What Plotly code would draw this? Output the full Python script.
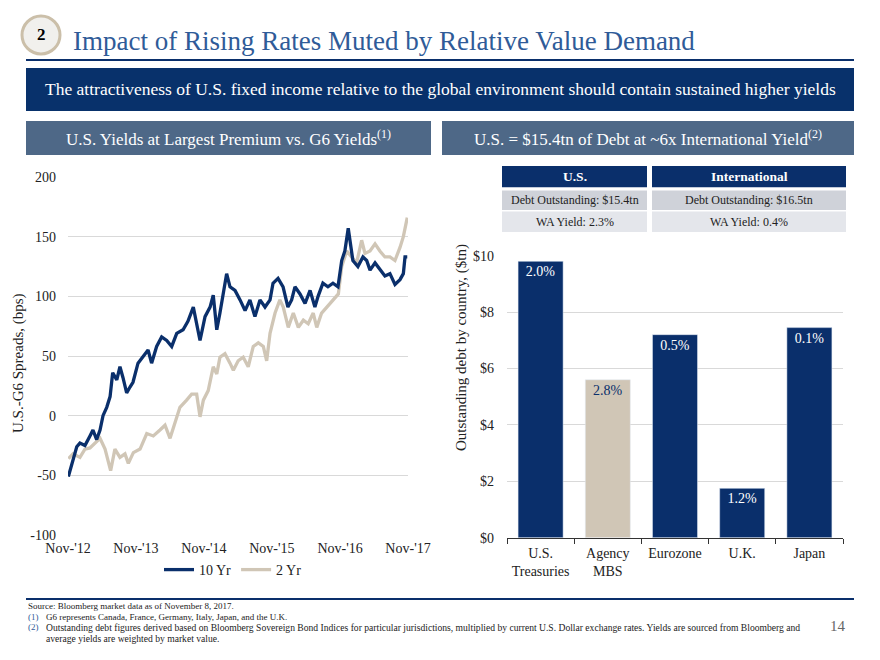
import plotly.graph_objects as go

# ---------------- data ----------------
dates_10yr = ["2012-11-10","2012-12-05","2012-12-25","2013-01-11","2013-02-07","2013-03-06","2013-03-22",
              "2013-04-11","2013-04-29","2013-05-15","2013-06-04","2013-06-22","2013-07-06","2013-07-28",
              "2013-08-14","2013-08-30","2013-09-19","2013-10-07","2013-10-23","2013-11-19","2013-12-16",
              "2014-01-12","2014-01-31","2014-02-27","2014-03-26","2014-04-22","2014-05-19","2014-06-15",
              "2014-07-19","2014-08-14","2014-09-12","2014-10-09","2014-10-18","2014-11-14","2014-12-11",
              "2014-12-28","2015-01-16","2015-02-02","2015-02-24","2015-03-10","2015-03-28","2015-04-24",
              "2015-05-21","2015-06-17","2015-07-13","2015-08-09","2015-09-05","2015-10-02","2015-10-29",
              "2015-11-14","2015-12-11","2016-01-07","2016-02-02","2016-02-22","2016-03-11","2016-04-07",
              "2016-05-04","2016-05-31","2016-06-26","2016-07-13","2016-08-08","2016-09-04","2016-10-01",
              "2016-10-28","2016-11-17","2016-12-04","2016-12-22","2017-01-04","2017-01-16","2017-02-12",
              "2017-03-11","2017-03-31","2017-04-18","2017-05-15","2017-06-10","2017-07-07","2017-08-03",
              "2017-08-30","2017-09-26","2017-10-14","2017-10-23","2017-11-04"]
spread_10yr = [-51,-37,-26,-23,-25,-17,-12,
               -20,-12,0,7,16,36,30,
               41,32,19,24,28,44,49,
               55,44,58,66,63,58,69,
               72,79,91,72,63,83,91,
               101,72,86,108,119,108,105,
               97,88,97,83,97,91,97,
               111,115,108,91,97,108,102,
               94,105,91,100,111,108,111,
               108,130,138,157,145,130,125,
               133,130,122,128,122,117,119,
               110,114,119,133,133]

dates_2yr = ["2012-11-10","2012-12-05","2013-01-11","2013-02-07","2013-03-06","2013-04-02","2013-04-29",
             "2013-05-26","2013-06-12","2013-06-25","2013-07-18","2013-08-14","2013-09-10","2013-09-28",
             "2013-10-25","2013-11-30","2014-01-05","2014-02-09","2014-03-17","2014-04-13","2014-05-10",
             "2014-06-06","2014-07-02","2014-08-07","2014-09-03","2014-09-30","2014-10-18","2014-11-05",
             "2014-12-01","2014-12-28","2015-01-16","2015-02-02","2015-03-01","2015-03-28","2015-04-15",
             "2015-05-11","2015-06-07","2015-07-04","2015-07-31","2015-08-27","2015-09-23","2015-10-11",
             "2015-10-29","2015-11-25","2015-12-21","2016-01-08","2016-02-04","2016-03-02","2016-03-29",
             "2016-04-25","2016-05-21","2016-06-17","2016-07-06","2016-08-01","2016-08-28","2016-10-03",
             "2016-10-30","2016-11-17","2016-12-14","2017-01-09","2017-02-05","2017-03-04","2017-03-22",
             "2017-04-18","2017-05-15","2017-06-10","2017-07-07","2017-08-03","2017-08-30","2017-09-26",
             "2017-10-14","2017-11-04"]
spread_2yr = [-36,-32,-35,-28,-27,-23,-19,
              -28,-37,-46,-28,-35,-32,-40,
              -31,-28,-15,-17,-12,-8,-19,
              -5,7,13,18,18,-1,13,
              21,41,35,49,52,44,38,
              46,49,41,58,61,58,46,
              69,86,97,91,74,86,74,
              80,77,86,74,86,91,97,
              102,125,138,133,128,147,136,
              138,144,138,133,133,130,141,
              150,166]

x_tick_vals = ["2012-11-08","2013-11-08","2014-11-08","2015-11-08","2016-11-08","2017-11-08"]
x_tick_text = ["Nov-'12","Nov-'13","Nov-'14","Nov-'15","Nov-'16","Nov-'17"]
y_tick_vals = [-100,-50,0,50,100,150,200]
y_tick_text = ["-100","-50","0","50","100","150","200"]

debt_categories = ["U.S.<br>Treasuries","Agency<br>MBS","Eurozone","U.K.","Japan"]
debt_values = [9.8,5.6,7.2,1.75,7.45]
debt_yields = ["2.0%","2.8%","0.5%","1.2%","0.1%"]
debt_ticks = [0,2,4,6,8,10]
debt_ticktext = ["$0","$2","$4","$6","$8","$10"]

# ---------------- styles ----------------
# the page body has an 8px margin, so the figure is 864x644 and page pixels are offset by 8
OFF = 8
W, H = 880 - 2 * OFF, 660 - 2 * OFF
NAVY = "#0a2f6b"
BEIGE = "#d0c6b6"
SLATE = "#4e6887"
TITLEBLUE = "#2f5b98"
TXT = "#222222"
FONT = "Liberation Serif"

def px(x): return (x - OFF) / W
def py(y): return 1 - (y - OFF) / H

fig = go.Figure()

fig.add_trace(go.Scatter(x=dates_2yr, y=spread_2yr, mode="lines", name="2 Yr",
                         line=dict(color=BEIGE, width=3.3), xaxis="x", yaxis="y"))
fig.add_trace(go.Scatter(x=dates_10yr, y=spread_10yr, mode="lines", name="10 Yr",
                         line=dict(color=NAVY, width=3.3), xaxis="x", yaxis="y"))

bar_colors = [NAVY, BEIGE, NAVY, NAVY, NAVY]
text_colors = ["white", NAVY, "white", "white", "white"]
fig.add_trace(go.Bar(x=debt_categories, y=debt_values, text=debt_yields, marker_color=bar_colors,
                     textposition="inside", insidetextanchor="end", textangle=0,
                     textfont=dict(color=text_colors, size=14, family=FONT),
                     showlegend=False, xaxis="x3", yaxis="y3", width=0.67))

# left chart domains
L_x0, L_x1 = px(68), px(408)
L_y0, L_y1 = py(535), py(177)
zero_pos = L_y0 + (0 - (-100)) / 300 * (L_y1 - L_y0)

R_x0, R_x1 = px(507), px(843)
R_y0, R_y1 = py(537.7), py(255.7)

x_range = ["2012-11-08", "2017-11-08"]

fig.update_layout(
    width=W, height=H, margin=dict(l=0, r=0, t=0, b=0, autoexpand=False),
    paper_bgcolor="white", plot_bgcolor="white",
    font=dict(family=FONT, size=14, color=TXT),
    showlegend=True,
    legend=dict(orientation="h", x=px(233), xanchor="center", y=py(570), yanchor="middle",
                font=dict(size=14, color=TXT), itemwidth=30, traceorder="reversed",
                bgcolor="rgba(0,0,0,0)"),
    xaxis=dict(domain=[L_x0, L_x1], range=x_range, type="date", tickvals=x_tick_vals, ticktext=x_tick_text,
               showgrid=False, showline=False, zeroline=False, ticks="", tickfont=dict(size=14),
               ticklabelstandoff=3, anchor="y", automargin=False),
    xaxis2=dict(domain=[L_x0, L_x1], range=x_range, type="date", overlaying="x", anchor="free",
                position=zero_pos, tickvals=x_tick_vals, showticklabels=False, showgrid=False,
                showline=True, linecolor="#333333", linewidth=1.3, ticks="outside", ticklen=5,
                tickcolor="#333333", zeroline=False, automargin=False),
    yaxis=dict(domain=[L_y0, L_y1], range=[-100, 200], tickvals=y_tick_vals, ticktext=y_tick_text,
               showgrid=True, gridcolor="#d9d9d9", gridwidth=1, zeroline=False, showline=False, ticks="",
               tickfont=dict(size=14), ticklabelstandoff=11, anchor="x", automargin=False),
    xaxis3=dict(domain=[R_x0, R_x1], anchor="y3", showline=True, linecolor="#333333", linewidth=1.3,
                ticks="outside", tickson="boundaries", ticklen=5, tickcolor="#333333", tickangle=0,
                showgrid=False, tickfont=dict(size=14), ticklabelstandoff=2, automargin=False),
    yaxis3=dict(domain=[R_y0, R_y1], anchor="x3", range=[0, 10], tickvals=debt_ticks, ticktext=debt_ticktext,
                showgrid=True, gridcolor="#d9d9d9", zeroline=False, showline=False, ticks="",
                tickfont=dict(size=14), ticklabelstandoff=12, automargin=False),
    bargap=0.33,
)

shapes = []
annots = []

def rect(x0, y0, x1, y1, color):
    shapes.append(dict(type="rect", xref="paper", yref="paper", x0=px(x0), x1=px(x1), y0=py(y1), y1=py(y0),
                       line=dict(width=0), fillcolor=color))

def hline(x0, x1, y, color, width):
    shapes.append(dict(type="line", xref="paper", yref="paper", x0=px(x0), x1=px(x1), y0=py(y), y1=py(y),
                       line=dict(color=color, width=width)))

# header circle and title
shapes.append(dict(type="circle", xref="paper", yref="paper", x0=px(22), x1=px(60), y0=py(54), y1=py(16),
                   line=dict(color="#cbbfa9", width=3), fillcolor="#f1f0ed", layer="above"))
annots.append(dict(x=px(41), y=py(35), text="<b>2</b>", font=dict(size=17, color="black")))
annots.append(dict(x=px(71), y=py(41), xanchor="left",
                   text="Impact of Rising Rates Muted by Relative Value Demand",
                   font=dict(size=27, color=TITLEBLUE)))
hline(26, 854, 60, NAVY, 2)

# banner
rect(26, 68, 854, 111, "#08316b")
annots.append(dict(x=px(440), y=py(89.5),
                   text="The attractiveness of U.S. fixed income relative to the global environment should contain sustained higher yields",
                   font=dict(size=17.5, color="white")))

# panel headers
rect(26, 121, 431, 155, SLATE)
rect(442, 121, 854, 155, SLATE)
annots.append(dict(x=px(228), y=py(138),
                   text="U.S. Yields at Largest Premium vs. G6 Yields<sup>(1)</sup>",
                   font=dict(size=17, color="white")))
annots.append(dict(x=px(648), y=py(138),
                   text="U.S. = $15.4tn of Debt at ~6x International Yield<sup>(2)</sup>",
                   font=dict(size=17, color="white")))

# table above bar chart
table_rows = [
    (166, 187.3, NAVY, "<b>U.S.</b>", "<b>International</b>", "white", 13.5),
    (190.5, 210, "#cfd2d9", "Debt Outstanding: $15.4tn", "Debt Outstanding: $16.5tn", TXT, 12),
    (211.5, 232, "#e4e6eb", "WA Yield: 2.3%", "WA Yield: 0.4%", TXT, 12),
]
for y0, y1, col, t1, t2, tc, fs in table_rows:
    rect(502, y0, 647, y1, col)
    rect(652, y0, 846, y1, col)
    annots.append(dict(x=px(574.5), y=py((y0 + y1) / 2), text=t1, font=dict(size=fs, color=tc)))
    annots.append(dict(x=px(749), y=py((y0 + y1) / 2), text=t2, font=dict(size=fs, color=tc)))

# axis titles
annots.append(dict(x=px(18), y=py(363), textangle=-90, text="U.S.-G6 Spreads, (bps)",
                   font=dict(size=15, color=TXT)))
annots.append(dict(x=px(461), y=py(348), textangle=-90,
                   text="Outstanding debt by country, ($tn)", font=dict(size=15, color=TXT)))

# bottom rule and footnotes
hline(26, 854, 599, NAVY, 2)
FN = 9
annots.append(dict(x=px(26), y=py(606), xanchor="left",
                   text="Source: Bloomberg market data as of November 8, 2017.", font=dict(size=FN, color=TXT)))
annots.append(dict(x=px(26), y=py(616.5), xanchor="left", text="(1)", font=dict(size=FN, color=TITLEBLUE)))
annots.append(dict(x=px(44), y=py(616.5), xanchor="left",
                   text="G6 represents Canada, France, Germany, Italy, Japan, and the U.K.", font=dict(size=FN, color=TXT)))
annots.append(dict(x=px(26), y=py(627), xanchor="left", text="(2)", font=dict(size=FN, color=TITLEBLUE)))
annots.append(dict(x=px(44), y=py(627), xanchor="left",
                   text="Outstanding debt figures derived based on Bloomberg Sovereign Bond Indices for particular jurisdictions, multiplied by current U.S. Dollar exchange rates. Yields are sourced from Bloomberg and",
                   font=dict(size=9.6, color=TXT)))
annots.append(dict(x=px(44), y=py(638), xanchor="left",
                   text="average yields are weighted by market value.", font=dict(size=9.6, color=TXT)))
annots.append(dict(x=px(838), y=py(626), text="14", font=dict(size=15, color="#666666")))

for a in annots:
    a.setdefault("xref", "paper")
    a.setdefault("yref", "paper")
    a.setdefault("xanchor", "center")
    a.setdefault("yanchor", "middle")
    a.setdefault("showarrow", False)
fig.update_layout(shapes=shapes, annotations=annots)

fig.write_html("out.html")
